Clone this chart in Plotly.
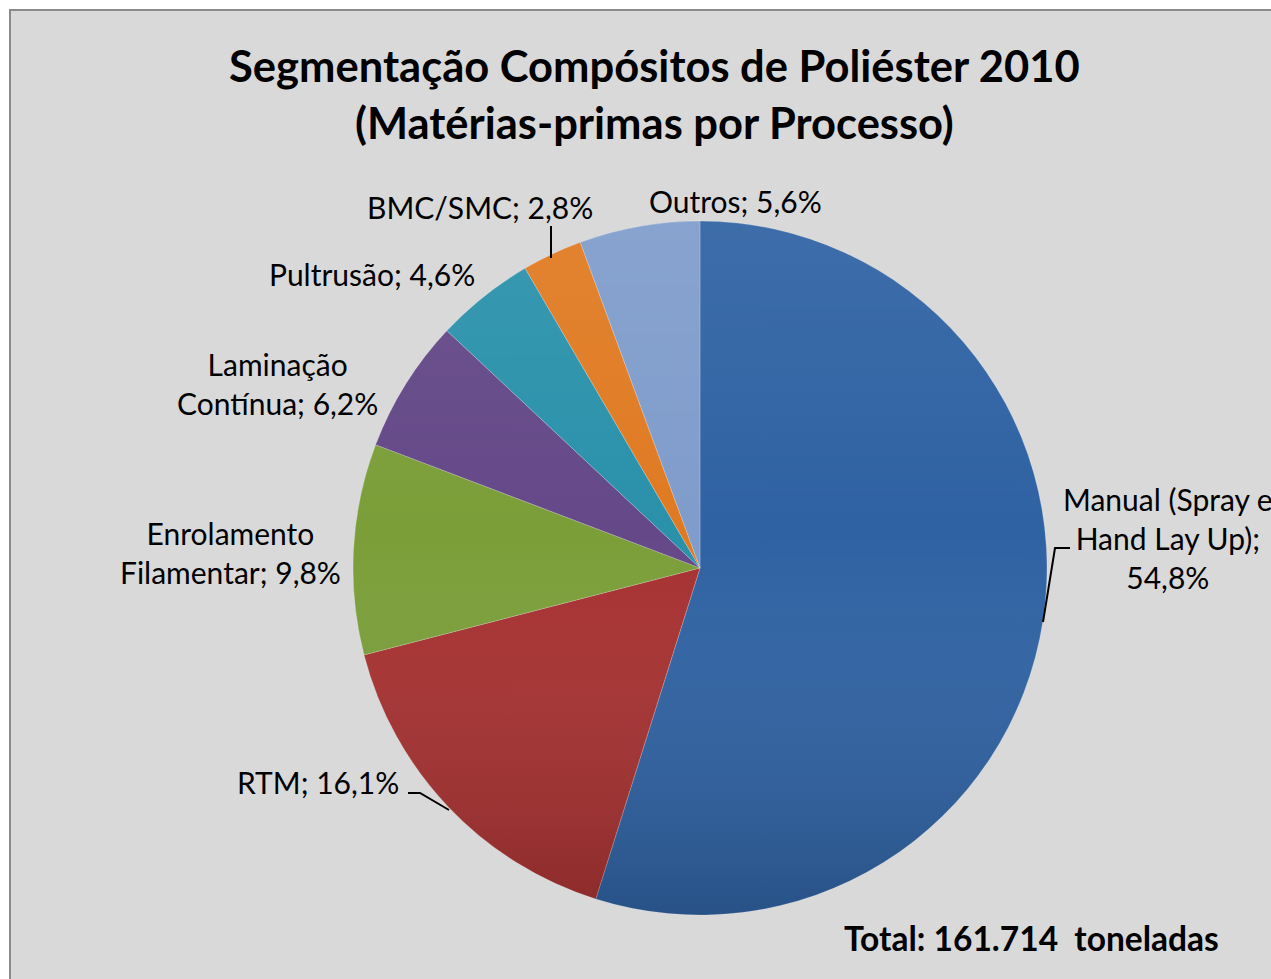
import base64
import plotly.graph_objects as go

# ---- data ----
categories = ["Manual (Spray e<br>Hand Lay Up)", "RTM", "Enrolamento<br>Filamentar",
              "Laminação<br>Contínua", "Pultrusão", "BMC/SMC", "Outros"]
shares = [54.8, 16.1, 9.8, 6.2, 4.6, 2.8, 5.6]
label_texts = ["Manual (Spray e<br>Hand Lay Up);<br>54,8%", "RTM; 16,1%",
               "Enrolamento<br>Filamentar; 9,8%", "Laminação<br>Contínua; 6,2%",
               "Pultrusão; 4,6%", "BMC/SMC; 2,8%", "Outros; 5,6%"]
title_lines = ["Segmentação Compósitos de Poliéster 2010", "(Matérias-primas por Processo)"]
total_text = "Total: 161.714  toneladas"

# ---- style ----
colors = ["#2f62a3", "#a73131", "#7b9e39", "#644888", "#2a91ab", "#e07a22", "#7f9ccb"]
W, H = 1271, 979
FONT = "Lato"
cx, cy, R = 700, 568, 347

def px(x):
    return x / W

def py(y):
    return 1 - y / H

# label placement (pixel centres in page coordinates)
label_pos = [(1168, 538), (318, 782), (231, 552), (277, 384), (372, 274), (480, 207), (735, 201)]

fig = go.Figure()
fig.add_trace(go.Pie(
    labels=categories, values=shares, sort=False, direction="clockwise", rotation=0,
    marker=dict(colors=colors, line=dict(width=0.6, color="rgba(255,255,255,0.35)")),
    textinfo="none", hoverinfo="label+percent", showlegend=False,
    domain=dict(x=[px(cx - R), px(cx + R)], y=[py(cy + R), py(cy - R)]),
))

# vertical shading overlay (lighter at top, darker at bottom) like the original
svg = ('<svg xmlns="http://www.w3.org/2000/svg" width="200" height="200" viewBox="0 0 200 200">'
       '<defs><linearGradient id="g" x1="0" y1="0" x2="0" y2="1">'
       '<stop offset="0" stop-color="#ffffff" stop-opacity="0.07"/>'
       '<stop offset="0.45" stop-color="#ffffff" stop-opacity="0"/>'
       '<stop offset="1" stop-color="#000000" stop-opacity="0.17"/>'
       '</linearGradient></defs><circle cx="100" cy="100" r="100" fill="url(#g)"/></svg>')
svg_uri = "data:image/svg+xml;base64," + base64.b64encode(svg.encode()).decode()

shapes = [dict(type="rect", xref="paper", yref="paper", x0=px(10), x1=px(1300), y0=py(10), y1=py(1010),
               fillcolor="#d9d9d9", line=dict(color="#8a8a8a", width=2), layer="below")]

leaders = [[(1043, 622), (1055, 548), (1070, 548)],
           [(408, 793), (420, 793), (449, 810)],
           [(551, 226), (551, 258)]]
for pts in leaders:
    path = "M " + " L ".join(f"{px(x)},{py(y)}" for x, y in pts)
    shapes.append(dict(type="path", xref="paper", yref="paper", path=path,
                       line=dict(color="black", width=2)))

annotations = []
for txt, (x, y) in zip(label_texts, label_pos):
    annotations.append(dict(text=txt, x=px(x), y=py(y), xref="paper", yref="paper",
                            showarrow=False, xanchor="center", yanchor="middle", align="center",
                            font=dict(family=FONT, size=30, color="black")))
annotations.append(dict(text="<b>" + title_lines[0] + "</b><br><b>" + title_lines[1] + "</b>",
                        x=px(654), y=py(93), xref="paper", yref="paper", showarrow=False,
                        xanchor="center", yanchor="middle", align="center",
                        font=dict(family=FONT, size=43.5, color="black")))
annotations.append(dict(text="<b>" + total_text + "</b>", x=px(1031), y=py(938), xref="paper",
                        yref="paper", showarrow=False, xanchor="center", yanchor="middle",
                        font=dict(family=FONT, size=33.5, color="black")))

fig.update_layout(width=W, height=H, margin=dict(l=0, r=0, t=0, b=0),
                  paper_bgcolor="white", plot_bgcolor="white",
                  shapes=shapes, annotations=annotations, separators=",.",
                  images=[dict(source=svg_uri, xref="paper", yref="paper",
                               x=px(cx - R), y=py(cy - R), sizex=2 * R / W, sizey=2 * R / H,
                               xanchor="left", yanchor="top", sizing="stretch", layer="above")])
fig.write_html("out.html", config={"displayModeBar": False},
               post_script="document.body.style.margin='0';")
